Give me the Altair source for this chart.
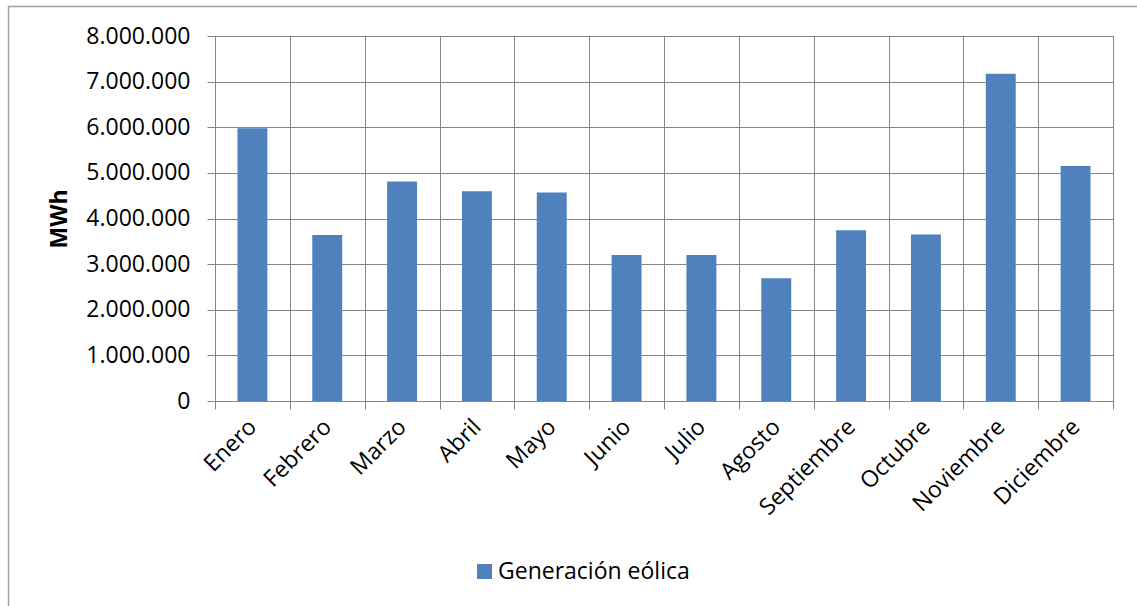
import altair as alt
import pandas as pd

# Monthly wind generation (MWh)
meses = ["Enero", "Febrero", "Marzo", "Abril", "Mayo", "Junio", "Julio",
         "Agosto", "Septiembre", "Octubre", "Noviembre", "Diciembre"]
generacion = [5980000, 3640000, 4810000, 4600000, 4570000, 3200000,
              3200000, 2690000, 3740000, 3650000, 7170000, 5150000]
serie = "Generación eólica"
ticks_y = [0, 1000000, 2000000, 3000000, 4000000, 5000000, 6000000, 7000000, 8000000]

df = pd.DataFrame({"Mes": meses, "MWh": generacion, "Serie": [serie] * len(meses)})

FONT = "Open Sans"
GRID = "#868686"
BLUE = "#4F81BD"

x_enc = alt.X(
    "Mes:N",
    sort=meses,
    scale=alt.Scale(paddingInner=0, paddingOuter=0),
    axis=alt.Axis(
        title=None,
        tickBand="extent",
        grid=True,
        gridColor=GRID,
        gridWidth=1,
        tickColor=GRID,
        tickSize=8,
        domainColor=GRID,
        labelAngle=-45,
        labelAlign="right",
        labelBaseline="middle",
        labelPadding=14,
        labelFont=FONT,
        labelFontSize=23,
        labelColor="black",
    ),
)

y_enc = alt.Y(
    "MWh:Q",
    scale=alt.Scale(domain=[0, 8000000], nice=False),
    axis=alt.Axis(
        title="MWh",
        values=ticks_y,
        labelExpr="replace(format(datum.value, ','), regexp(',', 'g'), '.')",
        grid=True,
        gridColor=GRID,
        gridWidth=1,
        tickColor=GRID,
        tickSize=8,
        domainColor=GRID,
        labelPadding=17,
        labelFont=FONT,
        labelFontSize=23,
        labelColor="black",
        titleFont=FONT,
        titleFontSize=23,
        titleFontWeight="bold",
        titleColor="black",
        titlePadding=14,
    ),
)

bars = alt.Chart(df).mark_bar(width=alt.RelativeBandSize(0.4)).encode(
    x=x_enc,
    y=y_enc,
    color=alt.Color(
        "Serie:N",
        scale=alt.Scale(domain=[serie], range=[BLUE]),
        legend=alt.Legend(
            title=None,
            orient="none",
            legendX=258,
            legendY=524,
            symbolType="square",
            symbolSize=225,
            symbolStrokeWidth=0,
            labelFont=FONT,
            labelFontSize=23,
            labelColor="black",
            labelOffset=2,
            labelLimit=0,
            padding=0,
        ),
    ),
)

# Outer chart frame
frame = alt.Chart(pd.DataFrame({"f": [0]})).mark_rect(
    fillOpacity=0, stroke="#a0a0a0", strokeWidth=1.5, clip=False
).encode(
    x=alt.value(-206.5),
    x2=alt.value(960),
    y=alt.value(-29.5),
    y2=alt.value(640),
)

chart = (
    alt.layer(bars, frame)
    .properties(
        width=898,
        height=365,
        padding={"left": 215, "top": 36, "right": 24, "bottom": 205},
        autosize=alt.AutoSizeParams(type="none"),
    )
    .configure(background="white")
    .configure_view(stroke=GRID, strokeWidth=1)
)

chart.save("out.html", embed_options={"renderer": "svg", "actions": False})
